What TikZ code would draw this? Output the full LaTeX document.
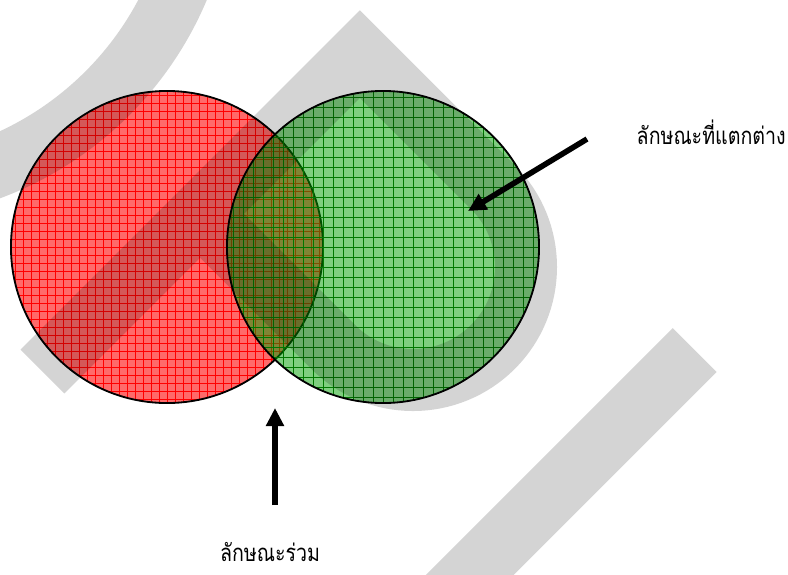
\documentclass[tikz,border=0pt]{standalone}
\usepackage{fontspec}
\newfontfamily\thaifont[Script=Thai, FakeStretch=0.82]{Loma}
\usepackage{tikz}
\usetikzlibrary{arrows.meta,positioning}
\usepackage{xcolor}
\definecolor{SetRed}{HTML}{FF6A6A}
\definecolor{GridRed}{HTML}{FF0000}
\definecolor{SetGreen}{HTML}{00A000}
\definecolor{GridGreen}{HTML}{007800}

\begin{document}
\begin{tikzpicture}[x=0.025cm, y=-0.025cm,
    setc/.style={circle, draw=black, line width=1.3pt, minimum size=7.8cm, inner sep=0pt},
    gridfill/.style 2 args={path picture={\draw[#1, line width=0.5pt, step=#2]
        (path picture bounding box.south west) grid (path picture bounding box.north east);}},
    pointer/.style={line width=0.14cm, -{Triangle[length=0.45cm, width=0.43cm]}},
    wm/.style={line width=1.55cm, black, opacity=0.17},
    lbl/.style={font=\thaifont\fontsize{17}{20}\selectfont, inner sep=0pt}
  ]
    \useasboundingbox (0,0) rectangle (788,574);

    \node[setc, fill=SetRed, gridfill={GridRed}{0.2cm}] (red) at (167,247) {};
    \node[setc, fill=SetGreen, fill opacity=0.5, gridfill={GridGreen}{0.25cm}] (green) at (383,247) {};

    % watermark
    \begin{scope}
      \clip (0,0) rectangle (788,574);
      \draw[wm] (-126,-140) ++(10:330) arc[start angle=10, end angle=85, radius=330];
      \draw[wm, line join=miter] (42.5,371.5) -- (359.9,54.1) -- (492.9,187.1)
        arc[start angle=-45, end angle=135, radius=113] -- (200.1,213.9);
      \draw[wm] (694.7,350) -- (424.7,620);
    \end{scope}

    \node[lbl, anchor=east] (diff) at (786,132) {ลักษณะที่แตกต่าง};
    \node[lbl] (common) at (270,552) {ลักษณะร่วม};

    \coordinate (difftail) at (587,139);
    \coordinate (diffhead) at (468,211);
    \coordinate (comtail) at (275,505);
    \coordinate (comhead) at (275,408);
    \draw[pointer] (difftail) -- (diffhead);
    \draw[pointer] (comtail) -- (comhead);
  \end{tikzpicture}
\end{document}
